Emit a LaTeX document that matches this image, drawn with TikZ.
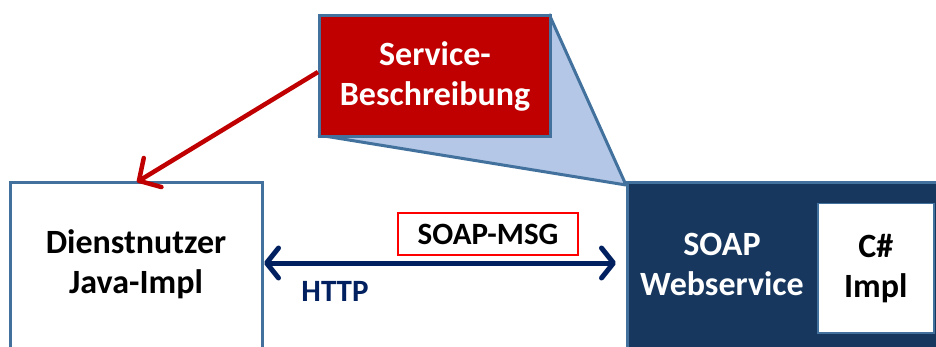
\documentclass[tikz,border=0pt]{standalone}
\usepackage{fontspec}
\setmainfont{Carlito}
\usetikzlibrary{arrows.meta}
\definecolor{steel}{HTML}{41719C}
\definecolor{darkred}{HTML}{C00000}
\definecolor{navy}{HTML}{17375E}
\definecolor{arrownavy}{HTML}{002060}
\definecolor{callout}{HTML}{B4C7E7}
\tikzset{
  boxline/.style={draw=steel,line width=3pt},
  bigtext/.style={font=\bfseries\fontsize{34}{40}\selectfont,align=center},
  smalltext/.style={font=\bfseries\fontsize{31}{36}\selectfont,align=center},
}
\begin{document}
\begin{tikzpicture}[x=1pt,y=-1pt]
\useasboundingbox (0,0) rectangle (936,347);
% callout wedge
\coordinate (bl) at (318,135);
\coordinate (tr) at (549,14);
\coordinate (tip) at (626,185);
\fill[callout] (bl) -- (tr) -- (tip) -- cycle;
\draw[steel,line width=3pt,line join=round] (bl) -- (tip) -- (tr);
% service box
\node[boxline,fill=darkred,minimum width=231pt,minimum height=121pt,inner sep=0pt,anchor=north west,text=white,bigtext] (svc) at (318,14) {Service-\\Beschreibung};
% Dienstnutzer
\draw[boxline,fill=white] (10,183) rectangle (262,360);
\node[bigtext,text=black] (dn) at (136,264) {Dienstnutzer\\Java-Impl};
\coordinate (dntop) at (137,182);
% SOAP box
\draw[boxline,fill=navy] (627,183) rectangle (950,360);
\node[bigtext,text=white] (soap) at (722,264) {SOAP\\Webservice};
\node[draw=steel,line width=1.5pt,fill=white,minimum width=116pt,minimum height=129pt,inner sep=0pt,anchor=north west,bigtext,text=black] (cs) at (817,203) {C\#\\Impl};
% SOAP-MSG
\node[draw=red,line width=2.5pt,fill=white,minimum width=180pt,minimum height=42pt,inner sep=0pt,smalltext,text=black] (msg) at (488,234) {SOAP-MSG};
% HTTP arrow
\coordinate (al) at (264,263);
\coordinate (ar) at (616,263);
\draw[arrownavy,line width=5pt,{Straight Barb[length=12pt,width=30pt,line cap=round,line join=round]}-{Straight Barb[length=12pt,width=30pt,line cap=round,line join=round]}] (al) -- (ar);
\node[smalltext,text=arrownavy] (http) at (335,291) {HTTP};
% red arrow
\coordinate (rs) at (318,72);
\draw[darkred,line width=4.5pt,-{Straight Barb[length=16pt,width=34pt,line cap=round,line join=round]}] (rs) -- (dntop);
\end{tikzpicture}
\end{document}
